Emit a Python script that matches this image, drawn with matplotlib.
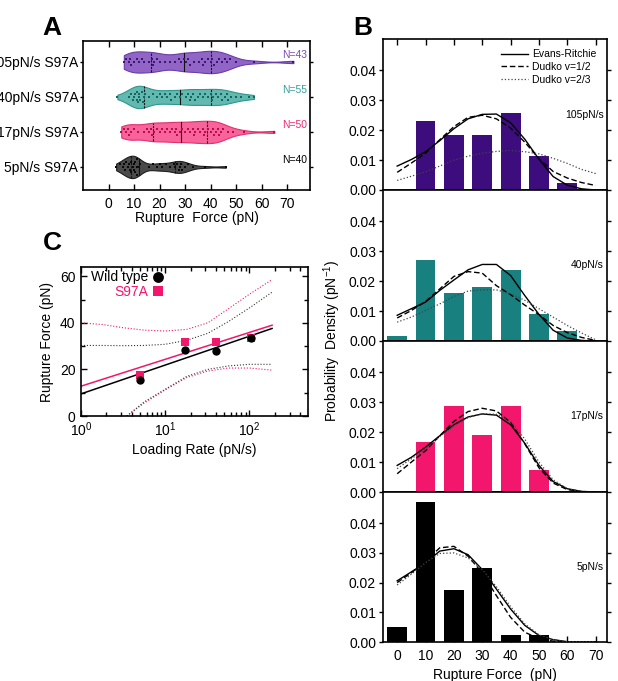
import numpy as np
import matplotlib
matplotlib.use('Agg')
import matplotlib.pyplot as plt
from matplotlib import cbook, mlab

plt.rcParams['font.family'] = ['Liberation Sans', 'DejaVu Sans']
plt.rcParams['font.size'] = 10
plt.rcParams['mathtext.fontset'] = 'custom'
plt.rcParams['mathtext.rm'] = 'Liberation Sans'
plt.rcParams['axes.linewidth'] = 1.2

PURPLE, TEAL, PINK, BLACK = '#3d0c7d', '#18807e', '#f2166c', '#000000'

# ---- panel A : single rupture forces (pN), estimated from the dots ----
row_labels = ['5pN/s S97A', '17pN/s S97A', '40pN/s S97A', '105pN/s S97A']
n_labels = ['N=40', 'N=50', 'N=55', 'N=43']
force_5 = [3, 4.5, 5.5, 6, 6.5, 7, 7.5, 8, 8.5, 9, 9, 9.5, 10, 10, 10.5, 10.5, 11, 11, 11,
           11.5, 12.5, 16, 17.5, 19, 20, 21, 22.5, 24, 25.5, 26, 27, 27.5, 28, 28.5, 29, 30,
           31, 33, 38, 46]
force_17 = [5, 6, 7, 7.5, 8, 9, 10, 11.5, 14, 15, 16, 16.5, 17, 18, 19, 20, 21, 22, 23, 24,
            25, 26, 26.5, 27, 28, 29, 30, 31, 32, 33, 33.5, 34, 35, 36, 37, 37.5, 38, 39, 40,
            41, 41.5, 42, 43, 43.5, 44, 45, 47, 49, 53, 65]
force_40 = [3.5, 8, 9, 9.5, 10, 10.5, 11, 11, 11.5, 12, 12, 12.5, 13, 13.5, 14, 14.5, 16,
            17.5, 19, 20, 21, 22, 23, 24, 24.5, 26, 27, 28, 29, 30.5, 31, 32, 32.5, 33, 34,
            35, 36, 37, 38, 39, 40, 40.5, 41, 42, 43, 44, 44.5, 45.5, 46.5, 47, 48, 50, 52,
            55, 57]
force_105 = [6, 7, 8, 8.5, 9, 10, 11, 12, 13, 14, 16, 17, 17.5, 18, 19, 20, 22, 24, 26,
             27.5, 28.5, 29.5, 30.5, 31, 32, 33.5, 35.5, 36.5, 37, 38, 39, 40, 40.5, 41.5,
             42.5, 43.5, 44.5, 45.5, 46.5, 47.5, 50, 57, 72.5]
violin_fill = ['#4a4a4a', '#f7639a', '#62b9b0', '#9165c6']
violin_edge = ['#1e1e1e', '#e2306c', '#2e968d', '#6a3ca8']
dot_color = ['#0a0a0a', '#b80e4c', '#17665f', '#3e1675']
n_color = ['#000000', '#ee2a72', '#35a09c', '#7d4bb8']

# ---- panel B : histograms and model curves ----
bin_centers = [0, 10, 20, 30, 40, 50, 60]
hist_105 = [0, 0.0232, 0.0184, 0.0184, 0.0256, 0.0115, 0.0022]
hist_40 = [0.0016, 0.0271, 0.0162, 0.0181, 0.0236, 0.0090, 0.0034]
hist_17 = [0, 0.0168, 0.0286, 0.0192, 0.0286, 0.0072, 0]
hist_5 = [0.0049, 0.0472, 0.0174, 0.0250, 0.0024, 0.0024, 0]

curve_x = [0, 5, 10, 15, 20, 25, 30, 35, 40, 45, 50, 55, 60, 65, 70]
er_105 = [0.0080, 0.0102, 0.0128, 0.0165, 0.0205, 0.0238, 0.0253, 0.0254, 0.0225, 0.0170,
          0.0103, 0.0045, 0.0016, 0.0004, 0.0]
d12_105 = [0.0059, 0.0090, 0.0123, 0.0168, 0.0212, 0.0243, 0.0250, 0.0238, 0.0207, 0.0160,
           0.0105, 0.0062, 0.0040, 0.0025, 0.0015]
d23_105 = [0.0032, 0.0046, 0.0061, 0.0080, 0.0100, 0.0113, 0.0123, 0.0129, 0.0132, 0.0128,
           0.0121, 0.0106, 0.0089, 0.0069, 0.0055]
er_40 = [0.0086, 0.0108, 0.0130, 0.0169, 0.0204, 0.0238, 0.0256, 0.0256, 0.0219, 0.0152,
         0.0089, 0.0036, 0.0010, 0.0002, 0.0]
d12_40 = [0.0077, 0.0102, 0.0132, 0.0174, 0.0216, 0.0232, 0.0227, 0.0185, 0.0155, 0.0120,
          0.0088, 0.0052, 0.0028, 0.0012, 0.0002]
d23_40 = [0.0063, 0.0080, 0.0102, 0.0124, 0.0149, 0.0167, 0.0171, 0.0171, 0.0158, 0.0136,
          0.0108, 0.0080, 0.0052, 0.0027, 0.0004]
er_17 = [0.0089, 0.0116, 0.0150, 0.0188, 0.0225, 0.0251, 0.0261, 0.0257, 0.0225, 0.0163,
         0.0089, 0.0035, 0.0011, 0.0002, 0.0]
d12_17 = [0.0061, 0.0100, 0.0138, 0.0188, 0.0236, 0.0269, 0.0280, 0.0271, 0.0233, 0.0161,
          0.0081, 0.0030, 0.0008, 0.0001, 0.0]
d23_17 = [0.0078, 0.0111, 0.0144, 0.0185, 0.0221, 0.0249, 0.0262, 0.0260, 0.0236, 0.0177,
          0.0100, 0.0041, 0.0011, 0.0002, 0.0]
er_5 = [0.0206, 0.0236, 0.0267, 0.0306, 0.0314, 0.0294, 0.0244, 0.0178, 0.0111, 0.0056,
        0.0022, 0.0008, 0.0001, 0.0, 0.0]
d12_5 = [0.0200, 0.0233, 0.0272, 0.0317, 0.0322, 0.0289, 0.0233, 0.0156, 0.0083, 0.0033,
         0.0011, 0.0003, 0.0, 0.0, 0.0]
d23_5 = [0.0192, 0.0228, 0.0267, 0.0298, 0.0300, 0.0283, 0.0244, 0.0186, 0.0119, 0.0061,
         0.0024, 0.0008, 0.0001, 0.0, 0.0]
rate_names = ['105pN/s', '40pN/s', '17pN/s', '5pN/s']

# ---- panel C : mean rupture force vs loading rate ----
rate = [5, 17, 40, 105]
wt_force = [15.6, 28.5, 28.0, 33.4]
s97a_force = [17.8, 31.6, 31.9, 33.4]
fit_x = [1, 186]
wt_fit = [9.5, 37.6]
s97a_fit = [12.8, 39.0]
band_x = [1, 1.8, 3.2, 5.6, 10, 18, 32, 56, 100, 186]
wt_upper = [30.3, 30.3, 30.2, 30.3, 30.8, 32.5, 35.5, 40.5, 46.4, 53.2]
s97a_upper = [40.0, 39.3, 37.9, 36.9, 36.5, 37.2, 40.0, 46.0, 52.3, 58.6]
band_lo_x = [3.5, 5.6, 10, 18, 32, 56, 100, 186]
wt_lower = [0, 6.0, 11.5, 17.0, 20.0, 21.5, 22.2, 22.2]
s97a_lower = [0, 5.5, 11.2, 16.5, 19.3, 20.6, 20.6, 19.7]

W, H = 618, 681
fig = plt.figure(figsize=(W / 100, H / 100), dpi=100)


def box(left, top, right, bottom):
    return [left / W, 1 - bottom / H, (right - left) / W, (bottom - top) / H]


def swarm(values, gap=1.8, step=0.075):
    pattern = [0, 1, -1, 2, -2, 3, -3]
    vals = np.asarray(values, float)
    offs = np.zeros(len(vals))
    start, k = None, 0
    for i in np.argsort(vals):
        if start is not None and vals[i] - start < gap:
            k += 1
        else:
            start, k = vals[i], 0
        offs[i] = pattern[k % len(pattern)] * step
    return offs


# ===== A =====
axA = fig.add_axes(box(83, 41, 310, 190))
datasets = [force_5, force_17, force_40, force_105]
stats = cbook.violin_stats(datasets, lambda X, c: mlab.GaussianKDE(X, 0.25).evaluate(c))
wv = 0.64
parts = axA.violin(stats, positions=range(4), orientation='horizontal', widths=wv,
                   showextrema=False)
for i, body in enumerate(parts['bodies']):
    body.set_facecolor(violin_fill[i])
    body.set_edgecolor(violin_edge[i])
    body.set_linewidth(0.8)
    body.set_alpha(1)
    st = stats[i]
    scale = wv / 2 / np.max(st['vals'])
    for q, ls in zip(np.percentile(datasets[i], [25, 50, 75]), ['--', '-', '--']):
        h = np.interp(q, st['coords'], st['vals']) * scale
        axA.plot([q, q], [i - h, i + h], ls=ls, color='#111111', lw=0.8,
                 dashes=(2, 1) if ls == '--' else (None, None))
    axA.plot(datasets[i], i + swarm(datasets[i]), 's', ms=2.0, color=dot_color[i], mew=0)
    axA.text(78, i + 0.2, n_labels[i], ha='right', va='center', fontsize=7.5, color=n_color[i])
axA.set_xlim(-10, 79)
axA.set_ylim(-0.66, 3.6)
axA.set_yticks(range(4))
axA.set_yticklabels(row_labels)
axA.set_xticks(range(0, 71, 10))
axA.tick_params(axis='x', direction='in', top=True, length=4, width=1, pad=5)
axA.tick_params(axis='y', direction='out', right=True, length=2.5, width=1, pad=1)
axA.set_xlabel('Rupture  Force (pN)', labelpad=0)

# ===== B =====
hists = [hist_105, hist_40, hist_17, hist_5]
curves = [(er_105, d12_105, d23_105), (er_40, d12_40, d23_40),
          (er_17, d12_17, d23_17), (er_5, d12_5, d23_5)]
bar_colors = [PURPLE, TEAL, PINK, BLACK]
tops = [39, 190, 341, 492, 642]
for i in range(4):
    ax = fig.add_axes(box(383, tops[i], 607, tops[i + 1]))
    ax.bar(bin_centers, hists[i], width=7, color=bar_colors[i], zorder=1)
    er, d12, d23 = curves[i]
    ax.plot(curve_x, er, '-', color='black', lw=1, label='Evans-Ritchie', zorder=3)
    ax.plot(curve_x, d12, '--', color='black', lw=1, dashes=(4, 2), label='Dudko v=1/2', zorder=3)
    ax.plot(curve_x, d23, ':', color='#444444', lw=0.9, label='Dudko v=2/3', zorder=3)
    ax.set_xlim(-5, 74)
    ax.set_ylim(0, 0.0505)
    ax.set_yticks([0, 0.01, 0.02, 0.03, 0.04])
    ax.set_yticklabels(['0.00', '0.01', '0.02', '0.03', '0.04'])
    ax.set_xticks(range(0, 71, 10))
    ax.tick_params(axis='y', direction='out', length=3, width=1, pad=2)
    ax.tick_params(axis='y', which='major', right=True)
    ax.tick_params(axis='x', direction='in', length=4, width=1,
                   top=(i == 0), bottom=(i == 3), labelbottom=(i == 3), pad=5)
    ax.text(0.985, 0.5, rate_names[i], transform=ax.transAxes, ha='right', va='center',
            fontsize=7.5)
    if i == 0:
        ax.legend(loc='upper right', frameon=False, fontsize=7.5, handlelength=2.6,
                  handletextpad=0.4, labelspacing=0.25, borderaxespad=0.6)
    if i == 3:
        ax.set_xlabel('Rupture Force  (pN)', labelpad=4)
fig.text(332 / W, 1 - 340.5 / H, 'Probability  Density (pN$^{-1}$)', rotation=90,
         ha='center', va='center')

# ===== C =====
axC = fig.add_axes(box(81, 267, 307.5, 416))
axC.plot(band_x, s97a_upper, ':', color=PINK, lw=0.8)
axC.plot(band_lo_x, s97a_lower, ':', color=PINK, lw=0.8)
axC.plot(band_x, wt_upper, ':', color='#333333', lw=0.8)
axC.plot(band_lo_x, wt_lower, ':', color='#333333', lw=0.8)
axC.plot(fit_x, s97a_fit, '-', color=PINK, lw=1.1)
axC.plot(fit_x, wt_fit, '-', color='black', lw=1.1)
axC.plot(rate, s97a_force, 's', color=PINK, ms=5.5, mew=0, label='S97A')
axC.plot(rate, wt_force, 'o', color='black', ms=6, mew=0, label='Wild type')
h, l = axC.get_legend_handles_labels()
axC.legend(h[::-1], l[::-1], loc='upper left', bbox_to_anchor=(0.03, 1.0), frameon=False,
           markerfirst=False, handlelength=1.0, handletextpad=0.2, labelspacing=0.05,
           borderaxespad=0.15, borderpad=0.1, markerscale=1.3, labelcolor=['black', PINK])
axC.set_xscale('log')
axC.set_xlim(1, 490)
axC.set_ylim(0, 64)
axC.set_yticks([0, 20, 40, 60])
axC.set_yticks([10, 30, 50], minor=True)
axC.tick_params(which='both', direction='in', top=True, right=True, width=1)
axC.tick_params(which='major', length=4)
axC.tick_params(which='minor', length=3)
axC.tick_params(axis='y', pad=4)
axC.tick_params(axis='x', pad=3)
axC.set_xlabel('Loading Rate (pN/s)', labelpad=3)
axC.set_ylabel('Rupture Force (pN)', labelpad=4)

for txt, x, y in [('A', 52, 28), ('B', 363, 28), ('C', 52, 243)]:
    fig.text(x / W, 1 - y / H, txt, fontsize=19, fontweight='bold', ha='center', va='center')

fig.savefig('out.png', dpi=100)
